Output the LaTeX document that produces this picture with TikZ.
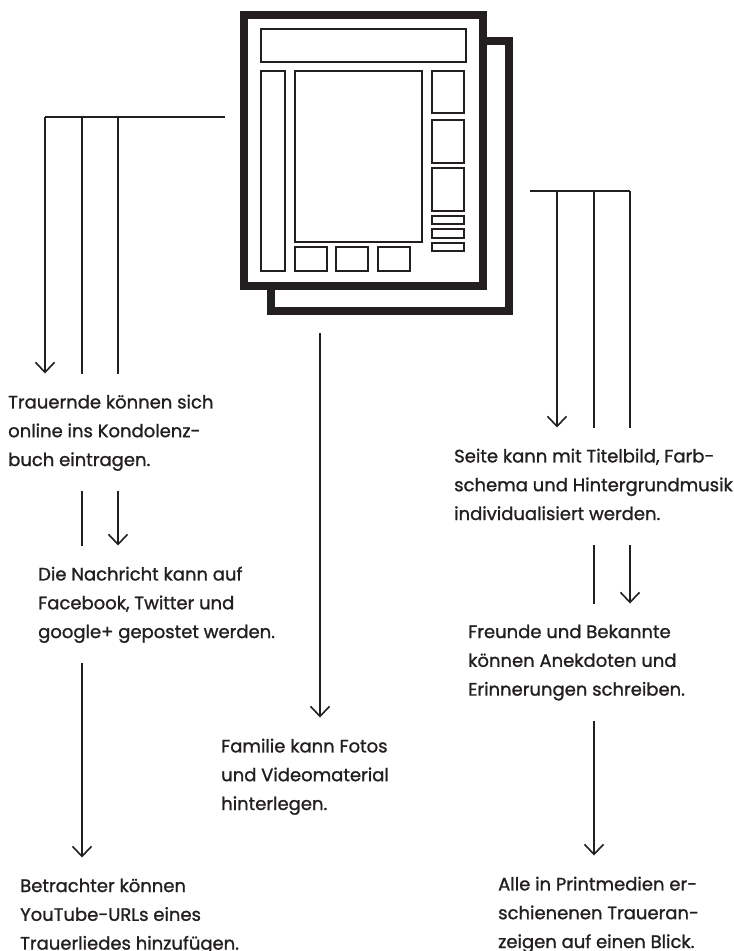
\documentclass[tikz,border=0pt]{standalone}
\usepackage{fontspec}
\setmainfont{Poppins}
\newfontfamily\notefont{Poppins}[FakeBold=1.2]
\usetikzlibrary{arrows.meta,positioning}

\definecolor{ink}{HTML}{231F20}

\tikzset{
  frame/.style = {draw=ink, line width=8pt, fill=white},
  panel/.style = {draw=ink, line width=1.5pt},
  wire/.style = {draw=ink, line width=1.8pt},
  pointer/.style = {wire, -{Straight Barb[length=10pt,width=19pt,line width=1.6pt]}},
  upto/.style = {shorten >=21pt},
  downfrom/.style = {shorten <=20pt},
  note/.style = {align=left, inner sep=0pt, anchor=north west, text=ink,
                 text depth=5pt, font=\notefont\fontsize{18}{28.8}\selectfont},
}

\begin{document}
\begin{tikzpicture}[x=1pt, y=-1pt]
\useasboundingbox (0,0) rectangle (734,951);

% the two pages
\draw[frame] (271,41) rectangle (509,311);
\draw[frame] (244,15) rectangle (483,286);

% layout of the front page
\draw[panel] (261,29) rectangle (466,62);   % header
\draw[panel] (261,71) rectangle (285,271);  % left column
\draw[panel] (295,71) rectangle (422,242);  % main field
\foreach \x in {295,336,378}
  \draw[panel] (\x,247) rectangle ++(32,24);
\foreach \ya/\yb in {71/113, 120/163, 168/211, 216/224, 229/238, 243/251}
  \draw[panel] (432,\ya) rectangle (464,\yb);

% texts
\node[note] (trauer) at (8,394.5) {Trauernde können sich\\online ins Kondolenz-\\buch eintragen.};
\node[note] (teilen) at (38,566.5) {Die Nachricht kann auf\\Facebook, Twitter und\\google+ gepostet werden.};
\node[note] (musik) at (20,878.5) {Betrachter können\\YouTube-URLs eines\\Trauerliedes hinzufügen.};
\node[note] (fotos) at (221,738.5) {Familie kann Fotos\\und Videomaterial\\hinterlegen.};
\node[note] (design) at (454,448.5) {Seite kann mit Titelbild, Farb-\\schema und Hintergrundmusik\\individualisiert werden.};
\node[note] (freunde) at (468,624.5) {Freunde und Bekannte\\können Anekdoten und\\Erinnerungen schreiben.};
\node[note] (anzeigen) at (498,876.5) {Alle in Printmedien er-\\schienenen Traueran-\\zeigen auf einen Blick.};

% left branch
\coordinate (lk) at (225,117);
\coordinate (l1) at (45,117);
\coordinate (l2) at (82,117);
\coordinate (l3) at (118,117);
\draw[wire] (lk) -- (l1);
\draw[pointer, upto] (l1) -- (l1 |- trauer.north);
\draw[wire, upto] (l2) -- (l2 |- trauer.north);
\draw[wire, upto] (l3) -- (l3 |- trauer.north);

\draw[wire, downfrom, upto] (trauer.south -| l2) -- (teilen.north -| l2);
\draw[pointer, downfrom, upto] (trauer.south -| l3) -- (teilen.north -| l3);

\draw[pointer, downfrom, upto] (teilen.south -| l2) -- (musik.north -| l2);

% middle branch
\coordinate (mk) at (320,333);
\draw[pointer, upto] (mk) -- (mk |- fotos.north);

% right branch
\coordinate (rk) at (530,191);
\coordinate (r1) at (557,191);
\coordinate (r2) at (594,191);
\coordinate (r3) at (630,191);
\draw[wire] (rk) -- (r3);
\draw[pointer, upto] (r1) -- (r1 |- design.north);
\draw[wire, upto] (r2) -- (r2 |- design.north);
\draw[wire, upto] (r3) -- (r3 |- design.north);

\draw[wire, downfrom, upto] (design.south -| r2) -- (freunde.north -| r2);
\draw[pointer, downfrom, upto] (design.south -| r3) -- (freunde.north -| r3);

\draw[pointer, downfrom, upto] (freunde.south -| r2) -- (anzeigen.north -| r2);
\end{tikzpicture}
\end{document}
